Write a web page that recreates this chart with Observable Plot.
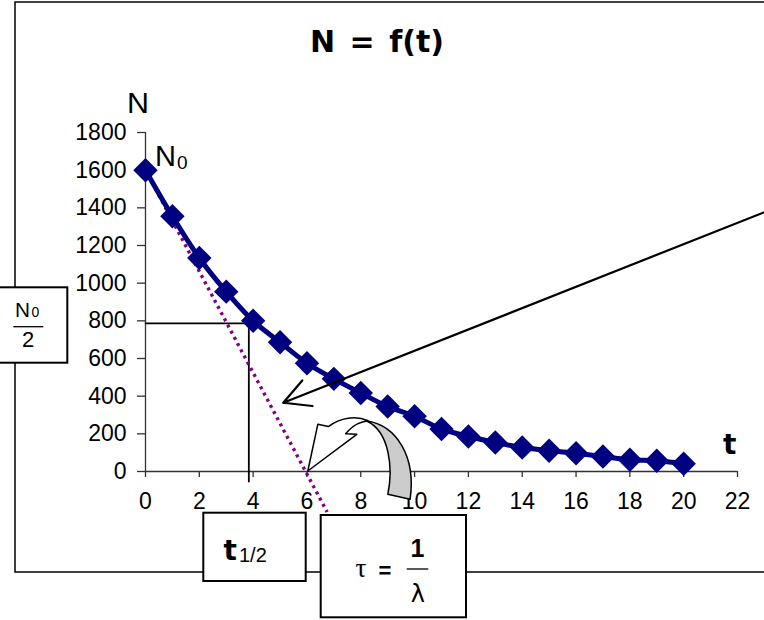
<!DOCTYPE html>
<html>
<head>
<meta charset="utf-8">
<script src="https://cdn.jsdelivr.net/npm/d3@7"></script>
<script src="https://cdn.jsdelivr.net/npm/@observablehq/plot@0.6"></script>
<style>
html, body { margin: 0; padding: 0; background: #fff; }
#chart { width: 764px; height: 620px; overflow: hidden; }
</style>
</head>
<body>
<div id="chart"></div>
<script>
// ---- data ----
const times  = [0, 1, 2, 3, 4, 5, 6, 7, 8, 9, 10, 11, 12, 13, 14, 15, 16, 17, 18, 19, 20];
const counts = [1600, 1355, 1134, 955, 800, 686, 575, 492, 417, 345, 293, 226, 186, 154, 127, 110, 97, 80, 62, 57, 41];
const xTicks = [0, 2, 4, 6, 8, 10, 12, 14, 16, 18, 20, 22];
const yTicks = [0, 200, 400, 600, 800, 1000, 1200, 1400, 1600, 1800];
// tangent at t = 0 (dotted), reaches zero at tau
const tangentT = [0, 6.75];
const tangentN = [1600, -215];
// half-life construction lines
const halfN = 787;
const halfT = 3.84;
const halfHorizT = [0, 4.2];
const halfVertN = [787, -53];
// straight pointer arrow (from outside right edge to the tangent)
const pointerFrom = [23.0, 1377];
const pointerTo = [5.12, 365];
// curved arrow tip (where tangent meets the axis)
const tauTip = [6.05, 0];

const series = times.map((t, i) => ({t, n: counts[i]}));
const tangent = tangentT.map((t, i) => ({t, n: tangentN[i]}));
const hLine = halfHorizT.map(t => ({t, n: halfN}));
const vLine = halfVertN.map(n => ({t: halfT, n}));

const chart = Plot.plot({
  width: 764,
  height: 620,
  marginLeft: 145,
  marginRight: 27,
  marginTop: 132,
  marginBottom: 149,
  style: {fontFamily: "'Liberation Sans', Arial, sans-serif", fontSize: "23px", color: "black", background: "white"},
  x: {domain: [0, 22], label: null},
  y: {domain: [0, 1800], label: null},
  marks: [
    Plot.ruleY([0], {x1: 0, x2: 22, stroke: "#333", strokeWidth: 1.3}),
    Plot.ruleX([0], {y1: 0, y2: 1800, stroke: "#333", strokeWidth: 1.3}),
    Plot.axisX({ticks: xTicks, tickSize: 6, tickPadding: 15, stroke: "#333", strokeWidth: 1.3, tickFormat: d => String(d)}),
    Plot.axisY({ticks: yTicks, tickSize: 8, tickPadding: 11, stroke: "#333", strokeWidth: 1.3, tickFormat: d => String(d)}),
    Plot.line(hLine, {x: "t", y: "n", stroke: "black", strokeWidth: 1.8}),
    Plot.line(vLine, {x: "t", y: "n", stroke: "black", strokeWidth: 1.8}),
    Plot.line(tangent, {x: "t", y: "n", stroke: "#800080", strokeWidth: 3.4, strokeDasharray: "3,4", strokeLinecap: "butt"}),
    Plot.line(series, {x: "t", y: "n", stroke: "#000080", strokeWidth: 5, curve: "catmull-rom"}),
    Plot.dot(series, {x: "t", y: "n", symbol: "diamond2", r: 11, fill: "#000080", stroke: "none"}),
    Plot.arrow([{x1: pointerFrom[0], y1: pointerFrom[1], x2: pointerTo[0], y2: pointerTo[1]}],
      {x1: "x1", y1: "y1", x2: "x2", y2: "y2", stroke: "black", strokeWidth: 2.2, headAngle: 56, headLength: 20})
  ]
});
document.getElementById("chart").appendChild(chart);

const svg = d3.select(chart);
const sx = chart.scale("x"), sy = chart.scale("y");

// outer chart frame (behind everything)
svg.insert("rect", ":first-child")
  .attr("x", 15).attr("y", 2).attr("width", 800).attr("height", 570)
  .attr("fill", "none").attr("stroke", "black").attr("stroke-width", 1.5);

// curved block arrow pointing at tau
const tipX = sx.apply(tauTip[0]), tipY = sy.apply(tauTip[1]);
const ca = svg.append("g").attr("transform", `translate(${tipX - 307.7},${tipY - 471.7})`)
  .attr("stroke", "black").attr("stroke-width", 1.5).attr("stroke-linejoin", "round");
ca.append("path").attr("fill", "white")
  .attr("d", "M307.7,471.7 L317.7,425 L328.3,427.3 C340,418 356,416 368,421.5 Q356,423 348.3,431.5 L345.5,434.5 L356.7,435 Z");
ca.append("path").attr("fill", "#cccccc")
  .attr("d", "M366,421.5 C397,426 416,458 410,500 L387.7,495 C393,470 390,432 366,421.5 Z");

// texts
const txt = (x, y, s, opts = {}) => {
  const t = svg.append("text").attr("x", x).attr("y", y).text(s)
    .attr("font-family", opts.family || "'Liberation Sans', Arial, sans-serif")
    .attr("font-size", opts.size || 23)
    .attr("font-weight", opts.weight || "normal")
    .attr("text-anchor", opts.anchor || "start")
    .attr("fill", "black");
  if (opts.len) t.attr("textLength", opts.len).attr("lengthAdjust", "spacingAndGlyphs");
  if (opts.ws) t.attr("word-spacing", opts.ws);
  return t;
};
txt(377, 51.5, "N = f(t)", {family: "'DejaVu Sans', sans-serif", size: 30, weight: "bold", anchor: "middle", ws: 4});
txt(127, 113, "N", {size: 29, len: 22});
txt(155, 166, "N", {size: 29, len: 21});
txt(177, 169, "0", {size: 19});
txt(723, 454, "t", {family: "'DejaVu Sans', sans-serif", size: 28, weight: "bold"});

// boxes
const box = (x, y, w, h) => svg.append("rect").attr("x", x).attr("y", y).attr("width", w).attr("height", h)
  .attr("fill", "white").attr("stroke", "black").attr("stroke-width", 2);
const bar = (x1, x2, y) => svg.append("line").attr("x1", x1).attr("x2", x2).attr("y1", y).attr("y2", y)
  .attr("stroke", "black").attr("stroke-width", 1.3);

box(-2, 287.3, 69.3, 75.4);
txt(15, 317, "N", {size: 19.5, len: 15});
txt(31.5, 317, "0", {size: 14});
bar(13.3, 43.3, 326.7);
txt(28, 346.7, "2", {size: 22, anchor: "middle"});

box(203.3, 512.7, 102.4, 68.3);
txt(223.5, 560, "t", {family: "'DejaVu Sans', sans-serif", size: 28, weight: "bold"});
txt(239, 561.7, "1/2", {size: 20});

box(320.7, 515, 145.3, 102.3);
txt(355.5, 577, "τ", {family: "'Liberation Serif', serif", size: 27});
txt(378.5, 577.5, "=", {size: 22, weight: "bold"});
txt(417.5, 557, "1", {size: 25, weight: "bold", anchor: "middle"});
bar(406.7, 428.3, 569);
txt(417.8, 601.7, "λ", {family: "'DejaVu Sans', sans-serif", size: 24, anchor: "middle"});
</script>
</body>
</html>
